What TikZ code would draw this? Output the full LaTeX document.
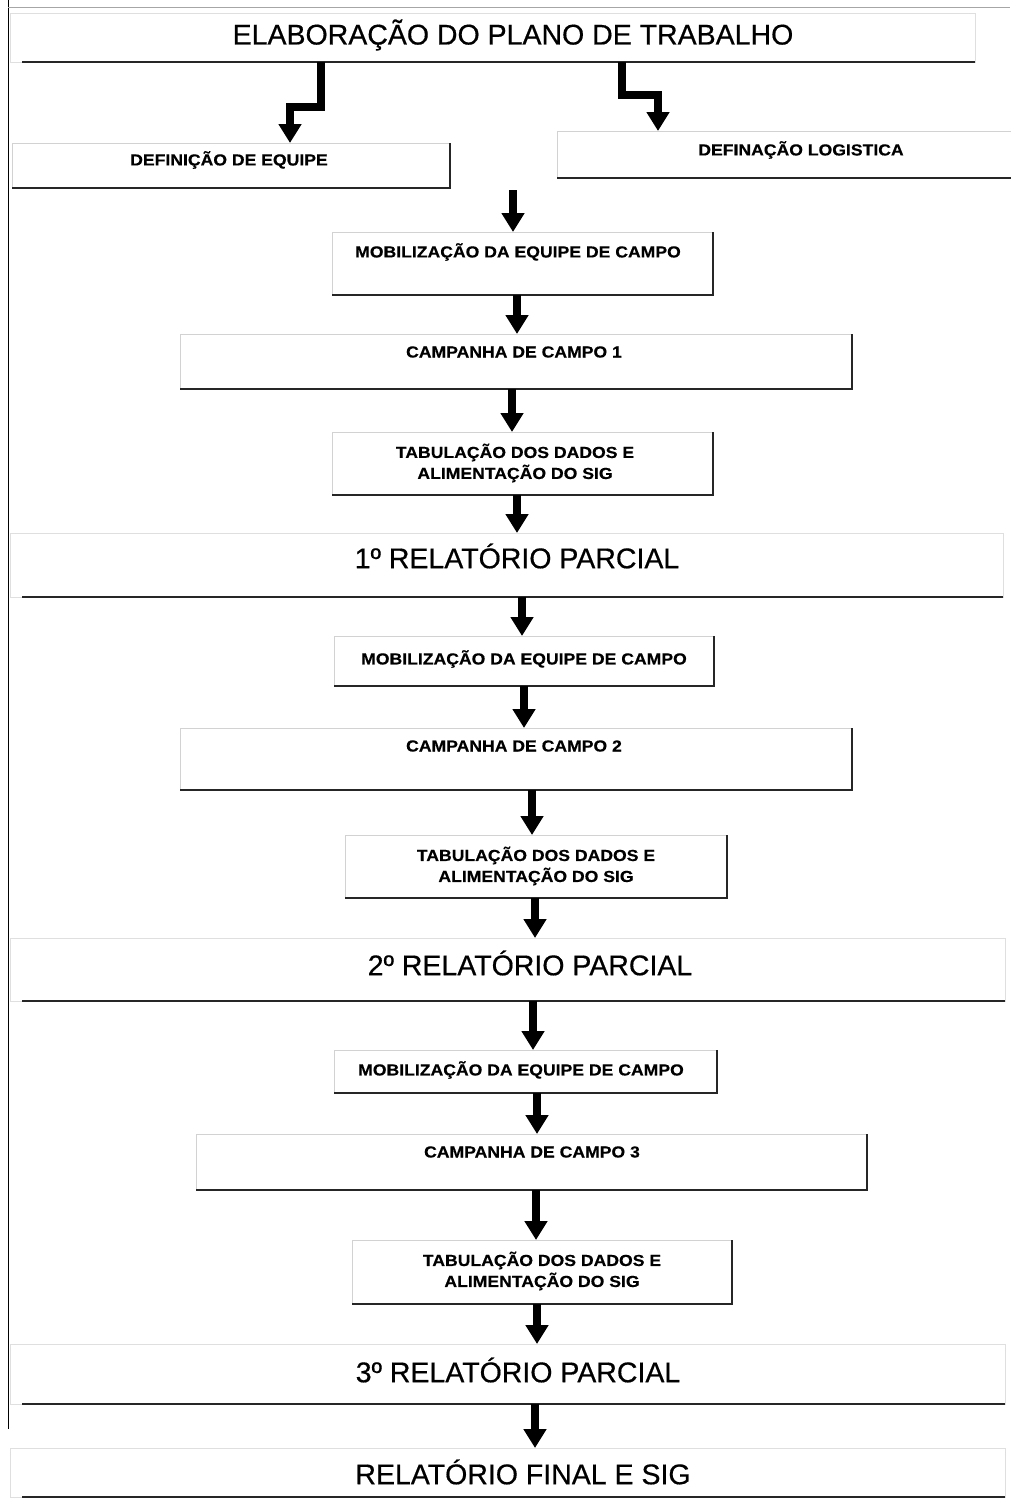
\documentclass[tikz,border=0pt]{standalone}
\usepackage{fontspec}
\setmainfont{Liberation Sans}
\newfontfamily\boxfont[FakeStretch=1.1,FakeBold=0.4]{Liberation Sans}
\newfontfamily\bigfont[FakeBold=0.5]{Liberation Sans}
\usetikzlibrary{arrows.meta}
\tikzset{
  boxbase/.style={draw=gray!35, line width=0.6pt, fill=white, inner sep=0pt, outer sep=0pt},
  shadowline/.style={draw=black!85, line width=2.6pt},
  boxtext/.style={font=\boxfont\bfseries\fontsize{16}{21}\selectfont, align=center, inner sep=0pt},
  bigtext/.style={font=\bigfont\fontsize{28.5}{33}\selectfont, inner sep=0pt},
  arr/.style={line width=8pt, draw=black, line join=miter, -{Triangle[width=22pt,length=19pt]}},
  frameline/.style={draw=black, line width=1pt},
}
% #1 name, #2 x1, #3 y1, #4 x2, #5 y2, #6 text x, #7 text y, #8 text
\newcommand\smallbox[8]{%
  \pgfmathsetmacro\bw{#4-#2}\pgfmathsetmacro\bh{#5-#3}%
  \node[boxbase, minimum width=\bw pt, minimum height=\bh pt] (#1) at ({(#2+#4)/2},{(#3+#5)/2}) {};
  \draw[shadowline] (#1.north east) -- (#1.south east) -- (#1.south west);
  \node[boxtext] (#1-t) at (#6,#7) {#8};
}
\newcommand\bigbox[8]{%
  \pgfmathsetmacro\bw{#4-#2}\pgfmathsetmacro\bh{#5-#3}%
  \node[boxbase, draw=gray!25, minimum width=\bw pt, minimum height=\bh pt] (#1) at ({(#2+#4)/2},{(#3+#5)/2}) {};
  \draw[shadowline] (#1.south east) -- ([xshift=12pt]#1.south west);
  \node[bigtext] (#1-t) at (#6,#7) {#8};
}
\begin{document}
\begin{tikzpicture}[x=1pt,y=-1pt]
\useasboundingbox (0,0) rectangle (1010,1499);
\fill[white] (0,0) rectangle (1010,1499);
% page frame
\coordinate (f0) at (8,0);
\coordinate (f1) at (8,1429);
\coordinate (g0) at (8,7);
\coordinate (g1) at (1010,7);
\draw[frameline] (f0) -- (f1);
\draw[draw=gray!70, line width=1pt] (g0) -- (g1);

\bigbox{title}{10}{13}{975}{62}{513}{35}{ELABORAÇÃO DO PLANO DE TRABALHO}
\smallbox{def1}{12}{143}{450}{188}{229}{160}{DEFINIÇÃO DE EQUIPE}
\smallbox{def2}{557}{131}{1012}{178}{801}{150}{DEFINAÇÃO LOGISTICA}

\smallbox{mob1}{332}{232}{713}{295}{518}{252}{MOBILIZAÇÃO DA EQUIPE DE CAMPO}
\smallbox{camp1}{180}{334}{852}{389}{514}{352}{CAMPANHA DE CAMPO 1}
\smallbox{tab1}{332}{432}{713}{495}{515}{463}{TABULAÇÃO DOS DADOS E\\ALIMENTAÇÃO DO SIG}
\bigbox{rel1}{10}{533}{1003}{597}{517}{556}{1º RELATÓRIO PARCIAL}

\smallbox{mob2}{334}{636}{714}{686}{524}{659}{MOBILIZAÇÃO DA EQUIPE DE CAMPO}
\smallbox{camp2}{180}{728}{852}{790}{514}{746}{CAMPANHA DE CAMPO 2}
\smallbox{tab2}{345}{835}{727}{898}{536}{866}{TABULAÇÃO DOS DADOS E\\ALIMENTAÇÃO DO SIG}
\bigbox{rel2}{10}{938}{1005}{1001}{530}{963}{2º RELATÓRIO PARCIAL}

\smallbox{mob3}{334}{1050}{717}{1093}{521}{1070}{MOBILIZAÇÃO DA EQUIPE DE CAMPO}
\smallbox{camp3}{196}{1134}{867}{1190}{532}{1152}{CAMPANHA DE CAMPO 3}
\smallbox{tab3}{352}{1240}{732}{1304}{542}{1271}{TABULAÇÃO DOS DADOS E\\ALIMENTAÇÃO DO SIG}
\bigbox{rel3}{10}{1344}{1005}{1404}{518}{1370}{3º RELATÓRIO PARCIAL}

\bigbox{final}{10}{1448}{1005}{1497}{523}{1472}{RELATÓRIO FINAL E SIG}

% elbow arrows
\draw[arr] (321,0 |- title.south) -- (321,107) -- (290,107) -- (290,0 |- def1.north);
\draw[arr] (622,0 |- title.south) -- (622,95) -- (658,95) -- (658,0 |- def2.north);

% vertical arrows
\coordinate (s0) at (513,190);
\draw[arr] (s0) -- (513,0 |- mob1.north);
\draw[arr] (517,0 |- mob1.south) -- (517,0 |- camp1.north);
\draw[arr] (512,0 |- camp1.south) -- (512,0 |- tab1.north);
\draw[arr] (517,0 |- tab1.south) -- (517,0 |- rel1.north);
\draw[arr] (522,0 |- rel1.south) -- (522,0 |- mob2.north);
\draw[arr] (524,0 |- mob2.south) -- (524,0 |- camp2.north);
\draw[arr] (532,0 |- camp2.south) -- (532,0 |- tab2.north);
\draw[arr] (535,0 |- tab2.south) -- (535,0 |- rel2.north);
\draw[arr] (533,0 |- rel2.south) -- (533,0 |- mob3.north);
\draw[arr] (537,0 |- mob3.south) -- (537,0 |- camp3.north);
\draw[arr] (536,0 |- camp3.south) -- (536,0 |- tab3.north);
\draw[arr] (537,0 |- tab3.south) -- (537,0 |- rel3.north);
\draw[arr] (535,0 |- rel3.south) -- (535,0 |- final.north);
\end{tikzpicture}
\end{document}
